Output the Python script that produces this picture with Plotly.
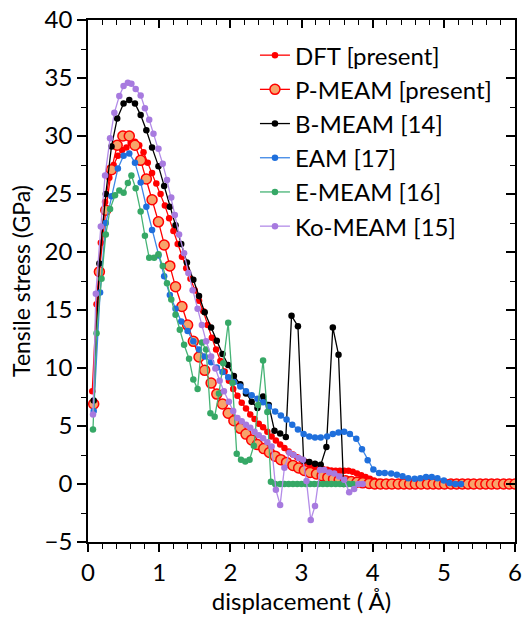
import plotly.graph_objects as go

# ---------------- data ----------------
dft_x = [0.06, 0.12, 0.18, 0.24, 0.30, 0.36, 0.42, 0.48, 0.54, 0.60,
         0.66, 0.72, 0.78, 0.84, 0.90, 0.96, 1.02, 1.08, 1.14, 1.20,
         1.26, 1.32, 1.38, 1.44, 1.50, 1.56, 1.62, 1.68, 1.74, 1.80,
         1.86, 1.92, 1.98, 2.04, 2.10, 2.16, 2.22, 2.28, 2.34, 2.40,
         2.46, 2.52, 2.58, 2.64, 2.70, 2.76, 2.82, 2.88, 2.94, 3.00,
         3.06, 3.12, 3.18, 3.24, 3.30, 3.36, 3.42, 3.48, 3.54, 3.60,
         3.66, 3.72, 3.78, 3.84, 3.90, 3.96, 4.02, 4.08, 4.14, 4.20,
         4.26, 4.32, 4.38, 4.44, 4.50]
dft_y = [8.0, 15.5, 20.8, 24.3, 26.4, 27.5, 28.3, 28.8, 29.0, 29.4,
         29.5, 29.2, 28.6, 27.7, 26.8, 25.9, 25.0, 24.0, 22.9, 21.8,
         20.7, 19.6, 18.6, 17.7, 16.7, 15.8, 14.9, 13.7, 12.6, 11.6,
         10.6, 9.7, 8.9, 8.2, 7.6, 7.0, 6.5, 6.0, 5.6, 5.2,
         4.9, 4.5, 4.1, 3.75, 3.4, 3.1, 2.8, 2.55, 2.3, 2.1,
         1.9, 1.72, 1.55, 1.42, 1.3, 1.22, 1.17, 1.15, 1.15, 1.15,
         1.15, 1.05, 0.9, 0.75, 0.6, 0.45, 0.3, 0.2, 0.1, 0.05,
         0.0, 0.0, 0.0, 0.0, 0.0]

pmeam_x = [0.08, 0.16, 0.25, 0.33, 0.41, 0.49, 0.58, 0.66, 0.74, 0.82, 0.90, 0.99,
           1.07, 1.15, 1.23, 1.32, 1.40, 1.48, 1.56, 1.64, 1.73, 1.81, 1.89, 1.97,
           2.05, 2.14, 2.22, 2.30, 2.38, 2.47, 2.55, 2.63, 2.71, 2.79, 2.88, 2.96,
           3.04, 3.12, 3.21, 3.29, 3.37, 3.45, 3.53, 3.62, 3.70, 3.78, 3.86, 3.95,
           4.03, 4.11, 4.19, 4.27, 4.36, 4.44, 4.52, 4.60, 4.68, 4.77, 4.85, 4.93,
           5.01, 5.10, 5.18, 5.26, 5.34, 5.42, 5.51, 5.59, 5.67, 5.75, 5.84, 5.92,
           6.00]
pmeam_y = [6.9, 18.3, 23.6, 27.1, 29.2, 30.0, 30.0, 29.2, 27.9, 26.3, 24.5, 22.6,
           20.6, 18.8, 17.0, 15.3, 13.7, 12.3, 10.95, 9.8, 8.7, 7.75, 6.9, 6.1,
           5.45, 4.8, 4.3, 3.8, 3.4, 3.05, 2.72, 2.4, 2.1, 1.86, 1.6, 1.38,
           1.17, 1.0, 0.86, 0.72, 0.57, 0.43, 0.34, 0.28, 0.22, 0.15, 0.1, 0.05,
           0.0, 0.0, 0.0, 0.0, 0.0, 0.0, 0.0, 0.0, 0.0, 0.0, 0.0, 0.0,
           0.0, 0.0, 0.0, 0.0, 0.0, 0.0, 0.0, 0.0, 0.0, 0.0, 0.0, 0.0,
           0.0]

bmeam_x = [0.08, 0.16, 0.25, 0.33, 0.41, 0.50, 0.58, 0.66, 0.74, 0.82, 0.90, 0.99,
           1.07, 1.15, 1.23, 1.31, 1.39, 1.48, 1.56, 1.64, 1.73, 1.81, 1.89, 1.97,
           2.05, 2.14, 2.22, 2.30, 2.38, 2.46, 2.54, 2.62, 2.70, 2.78, 2.86, 2.95,
           3.03, 3.11, 3.19, 3.27, 3.35, 3.44, 3.52, 3.59]
bmeam_y = [7.2, 19.0, 25.0, 29.1, 31.5, 32.8, 33.1, 32.8, 31.8, 30.5, 29.0, 27.4,
           25.7, 23.9, 22.3, 20.7, 19.1, 17.6, 16.2, 14.8, 13.5, 12.35, 11.2, 10.25,
           9.3, 8.6, 7.8, 7.1, 6.55, 7.55, 6.8, 4.6, 4.35, 4.05, 14.5, 13.6,
           2.0, 1.9, 1.75, 1.65, 3.2, 13.5, 11.15, 0.0]

eam_x = [0.08, 0.17, 0.25, 0.33, 0.42, 0.50, 0.58, 0.66, 0.74, 0.82, 0.90, 0.99,
         1.07, 1.15, 1.23, 1.31, 1.40, 1.48, 1.56, 1.64, 1.73, 1.81, 1.89, 1.97,
         2.05, 2.14, 2.22, 2.30, 2.38, 2.46, 2.54, 2.63, 2.71, 2.79, 2.87, 2.95,
         3.03, 3.11, 3.19, 3.27, 3.36, 3.44, 3.52, 3.60, 3.68, 3.77, 3.85, 3.93,
         4.01, 4.09, 4.17, 4.26, 4.34, 4.42, 4.50, 4.59, 4.67, 4.75, 4.83, 4.91,
         5.00, 5.08, 5.16, 5.24]
eam_y = [6.3, 16.5, 22.5, 24.8, 27.2, 28.3, 28.5, 27.7, 26.0, 23.9, 21.9, 19.7,
         17.9, 16.3, 15.1, 14.0, 13.2, 12.3, 11.6, 11.0, 10.5, 10.05, 9.65, 9.2,
         8.8, 8.4, 8.0, 7.65, 7.35, 7.05, 6.65, 6.25, 5.9, 5.55, 5.1, 4.7,
         4.3, 4.1, 4.0, 4.0, 4.1, 4.3, 4.45, 4.5, 4.3, 3.9, 3.0, 2.05,
         1.25, 0.95, 0.95, 0.9, 0.8, 0.66, 0.5, 0.46, 0.5, 0.6, 0.6, 0.5,
         0.3, 0.08, 0.0, 0.0]

emeam_x = [0.07, 0.12, 0.19, 0.25, 0.31, 0.38, 0.44, 0.50, 0.56, 0.61, 0.67,
           0.74, 0.80, 0.86, 0.93, 0.99, 1.05, 1.11, 1.17, 1.23, 1.29, 1.35,
           1.42, 1.48, 1.54, 1.60, 1.66, 1.72, 1.78, 1.84, 1.90, 1.97, 2.03,
           2.09, 2.15, 2.21, 2.27, 2.33, 2.39, 2.46, 2.52, 2.57, 2.63, 2.70,
           2.76, 2.82, 2.88, 2.94, 3.00, 3.06, 3.12, 3.18, 3.24, 3.30, 3.36,
           3.42, 3.48, 3.54, 3.60, 3.66, 3.72]
emeam_y = [4.7, 13.0, 17.7, 21.5, 23.7, 24.9, 25.3, 25.1, 25.95, 26.6, 25.5,
           23.5, 21.4, 19.5, 19.5, 19.8, 18.8, 17.3, 15.9, 14.6, 13.3, 12.0,
           10.8, 9.0, 8.2, 12.2, 11.6, 6.1, 5.8, 7.8, 10.4, 13.9, 8.7,
           2.6, 2.1, 1.95, 2.1, 3.3, 6.8, 10.65, 6.2, 0.2, 0.0, 0.0,
           0.0, 0.0, 0.0, 0.0, 0.0, 0.0, 0.0, 0.0, 0.0, 0.0, 0.0,
           0.0, 0.0, 0.0, 0.0, 0.0, 0.0]

komeam_x = [0.07, 0.11, 0.18, 0.24, 0.31, 0.37, 0.44, 0.50, 0.56, 0.61,
            0.67, 0.74, 0.80, 0.86, 0.92, 0.99, 1.05, 1.11, 1.17, 1.22,
            1.28, 1.35, 1.41, 1.47, 1.54, 1.60, 1.66, 1.73, 1.79, 1.85,
            1.91, 1.98, 2.04, 2.10, 2.16, 2.22, 2.28, 2.34, 2.40, 2.46,
            2.52, 2.58, 2.64, 2.70, 2.76, 2.83, 2.89, 2.96, 3.02, 3.07,
            3.13, 3.19, 3.26, 3.32, 3.39, 3.46, 3.53, 3.60, 3.67, 3.74,
            3.80, 3.86]
komeam_y = [6.0, 16.4, 22.2, 26.6, 29.8, 32.0, 33.45, 34.3, 34.6, 34.5,
            34.05, 33.5, 32.4, 31.4, 30.2, 28.9, 27.6, 26.2, 24.7, 23.2,
            21.5, 19.9, 18.2, 16.7, 15.1, 13.7, 12.3, 11.0, 9.95, 8.9,
            8.0, 7.1, 6.3, 5.7, 5.4, 5.1, 4.85, 4.5, 4.2, 3.95,
            3.6, 3.24, -0.5, -1.8, 1.4, 2.7, 2.5, 2.25, 2.1, 0.25,
            -3.1, -1.9, 1.2, 1.2, 1.0, 0.9, 0.65, 0.37, -0.72, -0.43,
            0.0, 0.0]

x_ticks = [0, 1, 2, 3, 4, 5, 6]
y_ticks = [-5, 0, 5, 10, 15, 20, 25, 30, 35, 40]

FONT = "Lato"

fig = go.Figure()

def add(name, x, y, line_color, marker_color, size=6.5, mline=None, lw=1.3):
    marker = dict(color=marker_color, size=size)
    if mline:
        marker["line"] = mline
    fig.add_trace(go.Scatter(
        x=x, y=y, name=name, mode="lines+markers",
        line=dict(color=line_color, width=lw),
        marker=marker,
    ))

add("DFT [present]", dft_x, dft_y, "#FF0000", "#FF0000")
add("P-MEAM [present]", pmeam_x, pmeam_y, "#FF0000", "#F7A46B", size=10,
    mline=dict(color="#FF0000", width=1.5))
add("B-MEAM [14]", bmeam_x, bmeam_y, "#000000", "#000000")
add("EAM [17]", eam_x, eam_y, "#3D86E6", "#1F6FDC")
add("E-MEAM [16]", emeam_x, emeam_y, "#45B375", "#36A866")
add("Ko-MEAM [15]", komeam_x, komeam_y, "#B38CE8", "#A77ADF")

# dummy trace to activate the mirrored (inside-tick) top/right axes
fig.add_trace(go.Scatter(x=[None], y=[None], xaxis="x2", yaxis="y2",
                         showlegend=False, hoverinfo="skip"))

axis_common = dict(showgrid=False, zeroline=False, showline=True,
                   linecolor="black", linewidth=1.5, automargin=False,
                   tickcolor="black", tickwidth=1.5)

fig.update_layout(
    width=527, height=619,
    margin=dict(l=88, r=12, t=20, b=77),
    paper_bgcolor="white", plot_bgcolor="white",
    font=dict(family=FONT, color="black", size=22),
    xaxis=dict(range=[0, 6], tickvals=x_ticks, ticks="outside", ticklen=8,
               minor=dict(dtick=0.2, ticks="outside", ticklen=5,
                          tickcolor="black", tickwidth=1.2),
               tickfont=dict(size=24),
               title=dict(text="displacement ( Å)", font=dict(size=24),
                          standoff=6),
               **axis_common),
    yaxis=dict(range=[-5, 40], tickvals=y_ticks, ticks="outside", ticklen=9,
               minor=dict(dtick=2.5, ticks="outside", ticklen=5,
                          tickcolor="black", tickwidth=1.2),
               tickfont=dict(size=24),
               title=dict(text="Tensile stress (GPa)", font=dict(size=23),
                          standoff=8),
               **axis_common),
    xaxis2=dict(range=[0, 6], overlaying="x", side="top", anchor="y",
                tickvals=x_ticks, ticks="inside", ticklen=8, showticklabels=False,
                minor=dict(dtick=0.2, ticks="inside", ticklen=5,
                           tickcolor="black", tickwidth=1.2),
                **axis_common),
    yaxis2=dict(range=[-5, 40], overlaying="y", side="right", anchor="x",
                tickvals=y_ticks, ticks="inside", ticklen=9, showticklabels=False,
                minor=dict(dtick=2.5, ticks="inside", ticklen=5,
                           tickcolor="black", tickwidth=1.2),
                **axis_common),
    legend=dict(x=0.391, y=0.975, xanchor="left", yanchor="top",
                bgcolor="rgba(0,0,0,0)", font=dict(size=24, family=FONT),
                itemwidth=30),
    showlegend=True,
)

# remove the default 8px page margin so the figure fills the window exactly
fig.write_html("out.html",
               config={"displayModeBar": False},
               post_script="document.body.style.margin='0';"
                           "document.body.style.overflow='hidden';")
